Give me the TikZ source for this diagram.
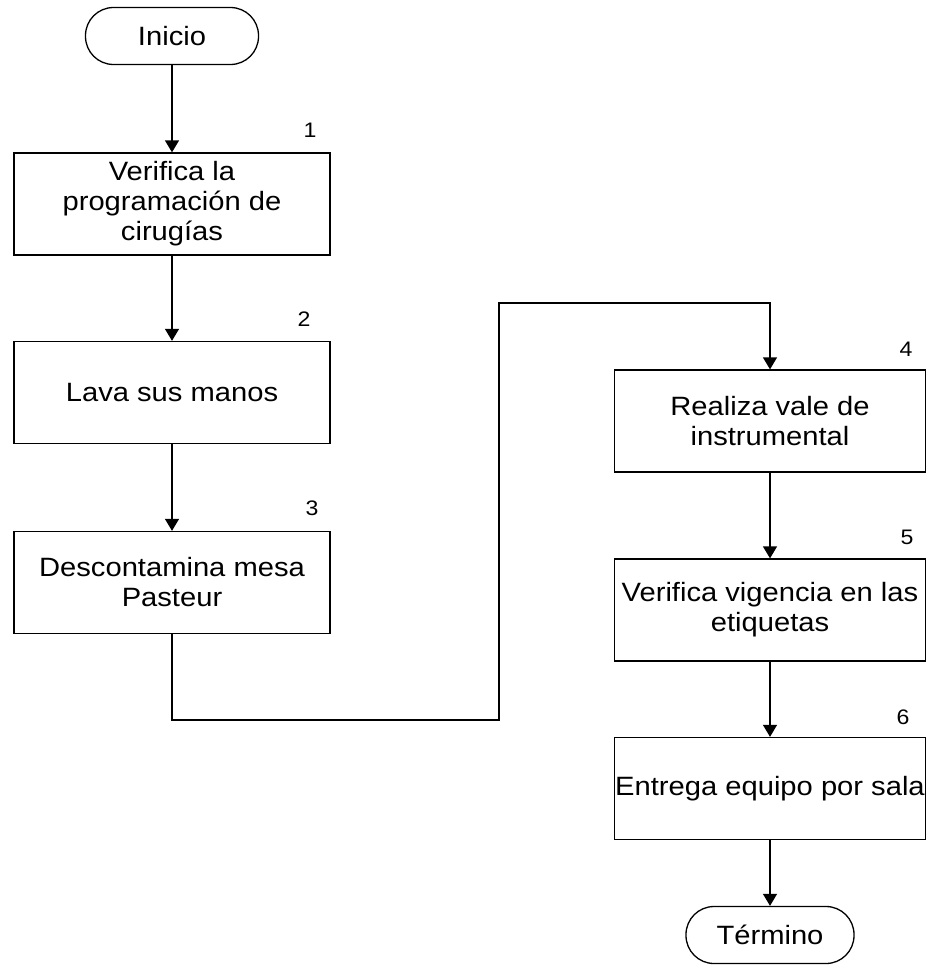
\documentclass[tikz,border=0pt]{standalone}
\usepackage{fontspec}
\setmainfont{Liberation Sans}[FakeStretch=1.1]
\usetikzlibrary{arrows.meta}
\begin{document}
\begin{tikzpicture}[x=1pt,y=-1pt,
  every node/.style={inner sep=0pt},
  txt/.style={font=\fontsize{26.5}{30}\selectfont, align=center},
  stepbox/.style={txt, draw, line width=1.3pt, minimum width=316pt, minimum height=102pt},
  terminal/.style={txt, draw, line width=1.3pt, rounded corners=28pt, minimum height=57pt},
  num/.style={font=\fontsize{21}{22}\selectfont},
  flow/.style={line width=1.3pt, -{Triangle[length=12pt,width=14pt]}}]
\useasboundingbox (0,0) rectangle (926,966);

% left column
\node[terminal, minimum width=173pt] (ini) at (172,36) {Inicio};
\node[stepbox] (b1) at (172,204) {Verifica la\\programación de\\cirugías};
\node[stepbox] (b2) at (172,392.5) {Lava sus manos};
\node[stepbox] (b3) at (172,582.5) {Descontamina mesa\\Pasteur};

% right column
\node[stepbox, minimum width=311pt] (b4) at (770,421) {Realiza vale de\\instrumental};
\node[stepbox, minimum width=311pt] (b5) at (770,610) {Verifica vigencia en las\\etiquetas};
\node[stepbox, minimum width=311pt] (b6) at (770,788.5) {Entrega equipo por sala};
\node[terminal, minimum width=168pt] (fin) at (770,935) {Término};

% step numbers
\node[num] (n1) at (310,130) {1};
\node[num] (n2) at (304,319) {2};
\node[num] (n3) at (312,508) {3};
\node[num] (n4) at (906,349) {4};
\node[num] (n5) at (907,537) {5};
\node[num] (n6) at (903,717) {6};

% connectors
\draw[flow] (ini.south) -- (b1.north);
\draw[flow] (b1.south) -- (b2.north);
\draw[flow] (b2.south) -- (b3.north);
\coordinate (c2) at (499,720);
\coordinate (c3) at (499,303);
\draw[flow] (b3.south) |- (c2) -- (c3) -| (b4.north);
\draw[flow] (b4.south) -- (b5.north);
\draw[flow] (b5.south) -- (b6.north);
\draw[flow] (b6.south) -- (fin.north);
\end{tikzpicture}
\end{document}
